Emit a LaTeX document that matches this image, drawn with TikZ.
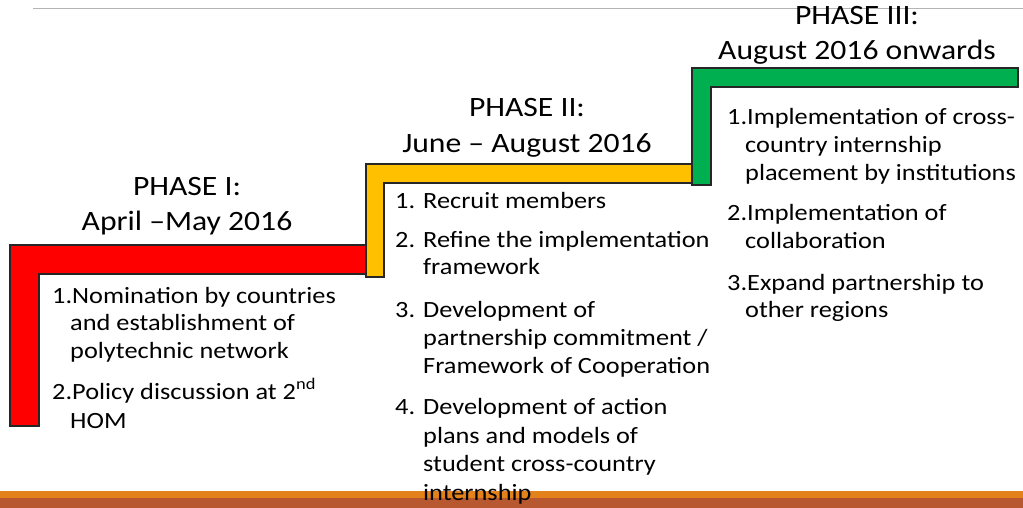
\documentclass[tikz,border=0pt]{standalone}
\usepackage{graphicx}
\usepackage{fontspec}
\setmainfont{Carlito}
\definecolor{pred}{HTML}{FF0000}
\definecolor{pyellow}{HTML}{FFC000}
\definecolor{pgreen}{HTML}{00B050}
\definecolor{barorange}{HTML}{E3811A}
\definecolor{bardark}{HTML}{B85830}
\definecolor{topgray}{HTML}{B4B4B4}
\newcommand\wx[1]{\scalebox{1.13}[1]{#1}}
\begin{document}
\begin{tikzpicture}[x=1pt,y=-1pt,
  lshape/.style={draw=black!85,line width=1.2pt,line join=miter},
  ttl/.style={anchor=base,inner sep=0pt,font=\fontsize{28}{33}\selectfont},
  itm/.style={anchor=base west,inner sep=0pt,font=\fontsize{23.3}{28}\selectfont}]
\useasboundingbox (0,0) rectangle (1023,508);
% top rule
\draw[topgray,line width=1.5pt] (33,8.5) -- (1023,8.5);
% bottom bars
\fill[barorange] (0,491) rectangle (1023,497.5);
\fill[bardark] (0,497.5) rectangle (1023,508);
% steps
\draw[lshape,fill=pred] (10,245) -- (372,245) -- (372,274) -- (39,274) -- (39,426) -- (10,426) -- cycle;
\draw[lshape,fill=pyellow] (366,164) -- (697,164) -- (697,183) -- (384,183) -- (384,277) -- (366,277) -- cycle;
\draw[lshape,fill=pgreen] (692,68) -- (1018,68) -- (1018,87) -- (711,87) -- (711,185) -- (692,185) -- cycle;
% titles
\node[ttl] (t1a) at (187,195) {\wx{PHASE I:}};
\node[ttl] (t1b) at (187,230) {\wx{April –May 2016}};
\node[ttl] (t2a) at (527,117) {\wx{PHASE II:}};
\node[ttl] (t2b) at (527,153) {\wx{June – August 2016}};
\node[ttl] (t3a) at (857,25) {\wx{PHASE III:}};
\node[ttl] (t3b) at (857,60) {\wx{August 2016 onwards}};
% phase I list
\node[itm] (a1) at (52,303) {\wx{1.Nomination by countries}};
\node[itm] (a2) at (70,330) {\wx{and establishment of}};
\node[itm] (a3) at (70,358) {\wx{polytechnic network}};
\node[itm] (a4) at (52,399) {\wx{2.Policy discussion at 2\textsuperscript{nd}}};
\node[itm] (a5) at (70,428) {\wx{HOM}};
% phase II list
\node[itm] (b1n) at (395,208) {\wx{1.}};
\node[itm] (b1) at (423,208) {\wx{Recruit members}};
\node[itm] (b2n) at (395,247) {\wx{2.}};
\node[itm] (b2) at (423,247) {\wx{Refine the implementation}};
\node[itm] (b3) at (423,274) {\wx{framework}};
\node[itm] (b4n) at (395,317) {\wx{3.}};
\node[itm] (b4) at (423,317) {\wx{Development of}};
\node[itm] (b5) at (423,345) {\wx{partnership commitment /}};
\node[itm] (b6) at (423,373) {\wx{Framework of Cooperation}};
\node[itm] (b7n) at (395,414) {\wx{4.}};
\node[itm] (b7) at (423,414) {\wx{Development of action}};
\node[itm] (b8) at (423,443) {\wx{plans and models of}};
\node[itm] (b9) at (423,471) {\wx{student cross-country}};
\node[itm] (b10) at (423,500) {\wx{internship}};
% phase III list
\node[itm] (c1) at (727,125) {\wx{1.Implementation of cross-}};
\node[itm] (c2) at (745,153) {\wx{country internship}};
\node[itm] (c3) at (745,180) {\wx{placement by institutions}};
\node[itm] (c4) at (727,220) {\wx{2.Implementation of}};
\node[itm] (c5) at (745,248) {\wx{collaboration}};
\node[itm] (c6) at (727,290) {\wx{3.Expand partnership to}};
\node[itm] (c7) at (745,317) {\wx{other regions}};
\end{tikzpicture}
\end{document}
